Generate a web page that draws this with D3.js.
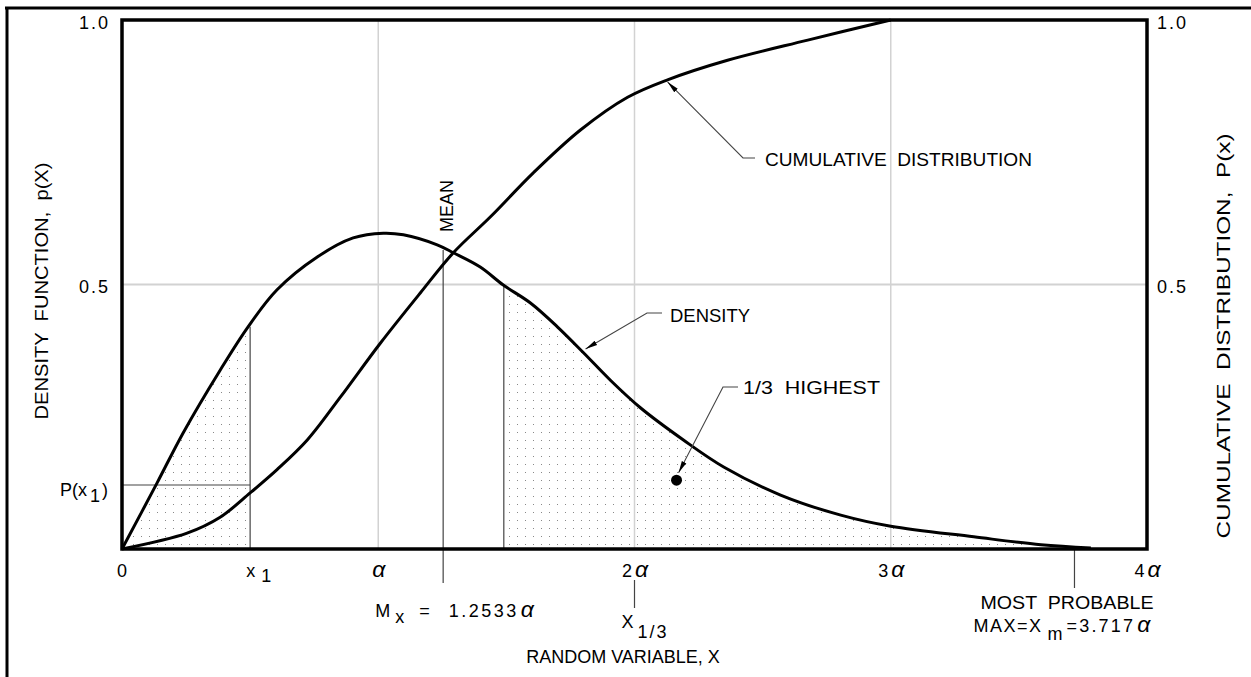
<!DOCTYPE html>
<html>
<head>
<meta charset="utf-8">
<script src="https://cdn.jsdelivr.net/npm/d3@7/dist/d3.min.js"></script>
<style>
body { margin: 0; background: #fff; }
svg text { font-family: "Liberation Sans", Arial, sans-serif; font-size: 18px; fill: #000; white-space: pre; }
</style>
</head>
<body>
<svg id="chart" width="1251" height="677"></svg>
<script>
// x is in units of alpha, y is probability (both axes share 0..1)
var density_x    = [0, 0.137, 0.238, 0.383, 0.492, 0.605, 0.762, 0.902, 1.02, 1.098, 1.23, 1.293, 1.398, 1.488, 1.594, 1.699, 1.801, 1.906, 2.023, 2.191, 2.348, 2.57, 2.805, 3.0, 3.324, 3.586, 3.781];
var density_y    = [0, 0.125, 0.219, 0.338, 0.42, 0.49, 0.552, 0.588, 0.597, 0.594, 0.575, 0.56, 0.533, 0.499, 0.465, 0.42, 0.371, 0.319, 0.267, 0.206, 0.155, 0.102, 0.064, 0.043, 0.023, 0.008, 0.002];
var cumulative_x = [0, 0.254, 0.383, 0.5, 0.605, 0.723, 0.852, 1.008, 1.164, 1.293, 1.438, 1.605, 1.789, 1.973, 2.129, 2.363, 2.676, 3.0];
var cumulative_y = [0, 0.03, 0.06, 0.106, 0.15, 0.206, 0.287, 0.389, 0.484, 0.56, 0.628, 0.711, 0.792, 0.854, 0.887, 0.924, 0.962, 1.0];

var x_ticks       = [0, 1, 2, 3, 4];
var x_tick_labels = ['0', 'α', '2α', '3α', '4α'];
var y_ticks       = [0.5, 1.0];
var y_tick_labels = ['0.5', '1.0'];

// marked values
var x_1 = 0.5, p_x1 = 0.121, density_at_x1 = 0.42;
var mean_x = 1.2533, density_at_mean = 0.565;
var third_start = 1.49, density_at_third = 0.5;
var x_one_third = 2;
var most_probable = 3.717;
var highest_dot = [2.164, 0.13];

var font = '"Liberation Sans", Arial, sans-serif';
var svg = d3.select('#chart');

var left = 122, right = 1147, top_y = 20, bottom = 549;
var x_scale = d3.scaleLinear().domain([0, 4]).range([left, right]);
var y_scale = d3.scaleLinear().domain([0, 1]).range([bottom, top_y]);

var density = density_x.map(function(d, i) { return [d, density_y[i]]; });
var cumulative = cumulative_x.map(function(d, i) { return [d, cumulative_y[i]]; });

// writes "2α" style labels: the number, then a larger italic alpha
function alpha_text(sel, str, spacing, dx, dy) {
    var parts = str.split('α');
    var first;
    if (parts[0]) {
        first = sel.append('tspan').attr('letter-spacing', spacing).text(parts[0]);
    }
    if (str.indexOf('α') >= 0) {
        var a = sel.append('tspan')
            .style('font-size', '23px').style('font-style', 'italic')
            .text('α');
        if (parts[0]) a.attr('dx', 2);
        if (!first) first = a;
    }
    if (dx) first.attr('dx', dx);
    if (dy) first.attr('dy', dy);
}

// outer frame (only top and left edges are visible)
svg.append('path')
    .attr('d', 'M5,8H1251M7,8V677')
    .attr('stroke', '#000').attr('stroke-width', 3).attr('fill', 'none');

var defs = svg.append('defs');
var pattern = defs.append('pattern')
    .attr('id', 'dots')
    .attr('patternUnits', 'userSpaceOnUse')
    .attr('width', 8).attr('height', 8)
    .attr('x', left).attr('y', bottom);
pattern.append('rect').attr('x', 3).attr('y', 3).attr('width', 1).attr('height', 1).attr('fill', '#888');

defs.append('marker')
    .attr('id', 'arrow')
    .attr('markerUnits', 'userSpaceOnUse')
    .attr('markerWidth', 12).attr('markerHeight', 8)
    .attr('refX', 12).attr('refY', 4)
    .attr('orient', 'auto')
  .append('path')
    .attr('d', 'M0,1.5L12,4L0,6.5Z')
    .attr('fill', '#000');

var clip = defs.append('clipPath').attr('id', 'shade-clip');
clip.append('rect')
    .attr('x', x_scale(0)).attr('y', top_y)
    .attr('width', x_scale(x_1) - x_scale(0)).attr('height', bottom - top_y);
clip.append('rect')
    .attr('x', x_scale(third_start)).attr('y', top_y)
    .attr('width', right - x_scale(third_start)).attr('height', bottom - top_y);

// grid lines
var grid = svg.append('g').attr('stroke', '#d2d2d2').attr('stroke-width', 1.5);
[1, 2, 3].forEach(function(t) {
    grid.append('line')
        .attr('x1', x_scale(t)).attr('x2', x_scale(t))
        .attr('y1', top_y).attr('y2', bottom);
});
grid.append('line')
    .attr('x1', left).attr('x2', right)
    .attr('y1', y_scale(0.5)).attr('y2', y_scale(0.5))
    .attr('stroke-width', 2);

var curve = d3.curveCatmullRom.alpha(0.5);

// shaded areas under the density
var area = d3.area()
    .x(function(d) { return x_scale(d[0]); })
    .y0(bottom)
    .y1(function(d) { return y_scale(d[1]); })
    .curve(curve);
svg.append('path')
    .datum(density)
    .attr('d', area)
    .attr('fill', 'url(#dots)')
    .attr('clip-path', 'url(#shade-clip)');

// thin marker lines
var thin = svg.append('g').attr('stroke', '#444').attr('stroke-width', 1.2);
thin.append('line')
    .attr('x1', x_scale(x_1)).attr('x2', x_scale(x_1))
    .attr('y1', bottom).attr('y2', y_scale(density_at_x1));
thin.append('line')
    .attr('x1', x_scale(0)).attr('x2', x_scale(x_1))
    .attr('y1', y_scale(p_x1)).attr('y2', y_scale(p_x1));
thin.append('line')
    .attr('x1', x_scale(third_start)).attr('x2', x_scale(third_start))
    .attr('y1', bottom).attr('y2', y_scale(density_at_third));
thin.append('line')
    .attr('x1', x_scale(mean_x)).attr('x2', x_scale(mean_x))
    .attr('y1', bottom + 34).attr('y2', y_scale(density_at_mean));
thin.append('line')
    .attr('x1', x_scale(x_one_third)).attr('x2', x_scale(x_one_third))
    .attr('y1', bottom + 31).attr('y2', bottom + 59);
thin.append('line')
    .attr('x1', x_scale(most_probable)).attr('x2', x_scale(most_probable))
    .attr('y1', bottom).attr('y2', bottom + 39);

// curves
var line = d3.line()
    .x(function(d) { return x_scale(d[0]); })
    .y(function(d) { return y_scale(d[1]); })
    .curve(curve);
svg.append('path').datum(density).attr('d', line)
    .attr('fill', 'none').attr('stroke', '#000').attr('stroke-width', 3);
svg.append('path').datum(cumulative).attr('d', line)
    .attr('fill', 'none').attr('stroke', '#000').attr('stroke-width', 3);

// plot frame
svg.append('rect')
    .attr('x', left).attr('y', top_y)
    .attr('width', right - left).attr('height', bottom - top_y)
    .attr('fill', 'none').attr('stroke', '#000').attr('stroke-width', 3.5);

// axes (labels only)
var x_axis = d3.axisBottom(x_scale)
    .tickValues(x_ticks)
    .tickFormat(function(d, i) { return x_tick_labels[i]; })
    .tickSize(0).tickPadding(15);
var gx = svg.append('g').attr('transform', 'translate(0,' + bottom + ')').call(x_axis);

var y_axis_left = d3.axisLeft(y_scale)
    .tickValues(y_ticks)
    .tickFormat(function(d, i) { return y_tick_labels[i]; })
    .tickSize(0).tickPadding(12);
var gyl = svg.append('g').attr('transform', 'translate(' + left + ',0)').call(y_axis_left);

var y_axis_right = d3.axisRight(y_scale)
    .tickValues(y_ticks)
    .tickFormat(function(d, i) { return y_tick_labels[i]; })
    .tickSize(0).tickPadding(10);
var gyr = svg.append('g').attr('transform', 'translate(' + right + ',0)').call(y_axis_right);

[gx, gyl, gyr].forEach(function(g) {
    g.select('.domain').remove();
    g.selectAll('text')
        .attr('font-family', null).attr('font-size', null)
        .style('font-family', font).style('font-size', '18px');
});
gyl.selectAll('text').attr('dy', '0.45em').attr('letter-spacing', 2);
gyr.selectAll('text').attr('dy', '0.45em').attr('letter-spacing', 2);
gx.selectAll('text').each(function(d, i) {
    var t = d3.select(this).text('');
    alpha_text(t, x_tick_labels[i], 1);
});

// P(x1) label
var px = svg.append('text')
    .attr('x', left - 14).attr('y', y_scale(p_x1) + 11)
    .attr('text-anchor', 'end');
px.append('tspan').text('P(x');
px.append('tspan').attr('dy', 6).attr('dx', 3).text('1');
px.append('tspan').attr('dy', -6).attr('dx', 2).text(')');

// x1 label
var x1l = svg.append('text').attr('x', x_scale(x_1) - 4).attr('y', bottom + 28);
x1l.append('tspan').text('x');
x1l.append('tspan').attr('dx', 6).attr('dy', 5).text('1');

// mean labels
svg.append('text')
    .attr('transform', 'translate(' + (x_scale(mean_x) + 10) + ',' + 232 + ') rotate(-90)')
    .attr('textLength', 52).attr('lengthAdjust', 'spacingAndGlyphs')
    .text('MEAN');
var ml = svg.append('text').attr('x', x_scale(mean_x) - 68).attr('y', bottom + 68);
ml.append('tspan').text('M');
ml.append('tspan').attr('dx', 5).attr('dy', 6).text('x');
ml.append('tspan').attr('dx', 15).attr('dy', -6).text('=');
alpha_text(ml, '1.2533α', 2.5, 19);

// X 1/3 label
var x13 = svg.append('text').attr('x', x_scale(x_one_third) - 13).attr('y', bottom + 79);
x13.append('tspan').text('X');
x13.append('tspan').attr('dx', 4).attr('dy', 10).attr('letter-spacing', 2).text('1/3');

// most probable label
svg.append('text')
    .attr('x', x_scale(most_probable) - 94).attr('y', bottom + 60)
    .attr('textLength', 173).attr('lengthAdjust', 'spacingAndGlyphs')
    .text('MOST  PROBABLE');
var mp = svg.append('text')
    .attr('x', x_scale(most_probable) - 101).attr('y', bottom + 83);
mp.append('tspan').attr('letter-spacing', 1.5).text('MAX=X');
mp.append('tspan').attr('dx', 5).attr('dy', 8).text('m');
alpha_text(mp, '=3.717α', 2.2, 4, -8);

// axis titles
svg.append('text')
    .attr('x', 623).attr('y', bottom + 114)
    .attr('text-anchor', 'middle')
    .text('RANDOM VARIABLE, X');
svg.append('text')
    .attr('transform', 'translate(48,291) rotate(-90)')
    .attr('text-anchor', 'middle')
    .attr('textLength', 257).attr('lengthAdjust', 'spacingAndGlyphs')
    .text('DENSITY  FUNCTION,  p(X)');
svg.append('text')
    .attr('transform', 'translate(1230,336) rotate(-90)')
    .attr('text-anchor', 'middle')
    .attr('textLength', 405).attr('lengthAdjust', 'spacingAndGlyphs')
    .text('CUMULATIVE  DISTRIBUTION,  P(x)');

// leaders with arrows
function leader(points, label, tx, ty, len) {
    svg.append('path')
        .attr('d', d3.line()(points))
        .attr('fill', 'none').attr('stroke', '#444').attr('stroke-width', 1.1)
        .attr('marker-end', 'url(#arrow)');
    svg.append('text').attr('x', tx).attr('y', ty)
        .attr('textLength', len).attr('lengthAdjust', 'spacingAndGlyphs')
        .text(label);
}
leader([[755, 158], [743, 158], [x_scale(2.129), y_scale(0.883)]], 'CUMULATIVE  DISTRIBUTION', 765, 166, 267);
leader([[662, 313], [647, 313], [x_scale(1.809), y_scale(0.378)]], 'DENSITY', 670, 322, 80);
leader([[738, 387], [723, 387], [x_scale(2.172), y_scale(0.144)]], '1/3  HIGHEST', 743, 394, 137);

svg.append('circle')
    .attr('cx', x_scale(highest_dot[0])).attr('cy', y_scale(highest_dot[1]))
    .attr('r', 5.5).attr('fill', '#000');
</script>
</body>
</html>
